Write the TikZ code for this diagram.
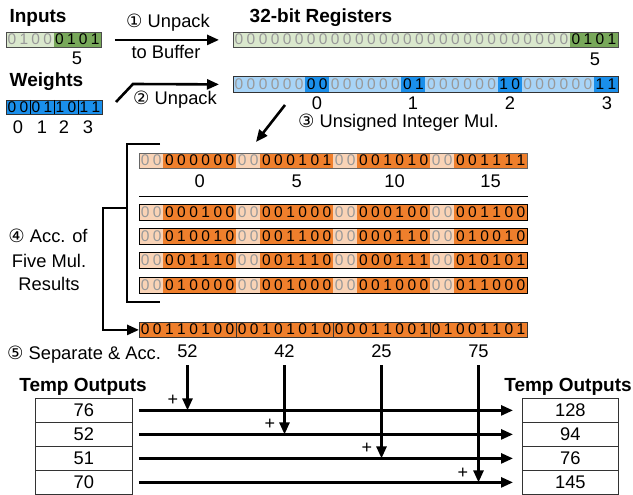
\documentclass[tikz,border=0pt]{standalone}
\usepackage{fontspec}
\setmainfont{Liberation Sans}
\newfontfamily\symfont{DejaVu Sans}
\usetikzlibrary{arrows.meta,calc}

\definecolor{grnD}{HTML}{78A85A}
\definecolor{grnL}{HTML}{DAE8CD}
\definecolor{bluD}{HTML}{1A8FEB}
\definecolor{bluL}{HTML}{A8D4F7}
\definecolor{orgD}{HTML}{EF7F2C}
\definecolor{orgL}{HTML}{F9D3B6}
\colorlet{lgt}{black!40}

\newcommand\bitfont{\fontsize{15.5}{15.5}\selectfont}
\newcommand\lblfont{\fontsize{18.3}{22}\selectfont}
\newcommand\ttlfont{\bfseries\fontsize{19}{22}\selectfont}
\newcommand\cnum[1]{{\symfont #1}}

\def\ow{12.125}
\def\rw{12.03}

% one run of bits: #1 name prefix, #2 left x, #3 top y, #4 bit width,
% #5 height, #6 fill, #7 digit colour, #8 bits
\newcommand\seg[8]{%
  \foreach \b [count=\i from 0] in {#8}{%
    \fill[#6] ({#2+\i*#4},#3) rectangle ({#2+(\i+1)*#4+0.3},{#3+#5});
    \node[bit,text=#7,name=#1\i] at ({#2+(\i+0.5)*#4},{#3+#5/2}) {\b};}}

% one packed 32-bit product row: #1 name, #2 top y, #3 height,
% #4 frame colour, #5-#8 the four six-bit values
\newcommand\orow[8]{%
  \seg{#1a}{139}{#2}{\ow}{#3}{orgL}{lgt}{0,0}
  \seg{#1b}{139+2*\ow}{#2}{\ow}{#3}{orgD}{black}{#5}
  \seg{#1c}{139+8*\ow}{#2}{\ow}{#3}{orgL}{lgt}{0,0}
  \seg{#1d}{139+10*\ow}{#2}{\ow}{#3}{orgD}{black}{#6}
  \seg{#1e}{139+16*\ow}{#2}{\ow}{#3}{orgL}{lgt}{0,0}
  \seg{#1f}{139+18*\ow}{#2}{\ow}{#3}{orgD}{black}{#7}
  \seg{#1g}{139+24*\ow}{#2}{\ow}{#3}{orgL}{lgt}{0,0}
  \seg{#1h}{139+26*\ow}{#2}{\ow}{#3}{orgD}{black}{#8}
  \node[frame=#4,minimum width=388pt,minimum height=#3pt] (#1) at (139,#2) {};}

\tikzset{
  bit/.style={inner sep=0pt,font=\bitfont},
  lbl/.style={inner sep=0pt,font=\lblfont},
  ttl/.style={inner sep=0pt,font=\ttlfont},
  plus/.style={inner sep=0pt,font=\fontsize{18}{18}\selectfont},
  frame/.style={draw=#1,line width=0.8pt,inner sep=0pt,anchor=north west},
  arr/.style={line width=2.6pt,-{Triangle[length=12pt,width=10pt]}},
  thk/.style={line width=2.6pt},
  cell/.style={draw=black!80,line width=0.8pt,inner sep=0pt,anchor=north west,
    minimum height=24pt,font=\lblfont},
}

\begin{document}
\begin{tikzpicture}[x=1pt,y=-1pt]
\useasboundingbox (0,0) rectangle (633,495);

% ---- packed inputs ----
\node[ttl,anchor=base] (tin) at (38,23) {Inputs};
\seg{ia}{6}{32}{11.875}{15}{grnL}{lgt}{0,1,0,0}
\seg{ib}{53.5}{32}{11.875}{15}{grnD}{black}{0,1,0,1}
\node[frame=black!70,minimum width=95pt,minimum height=15pt] (inbox) at (6,32) {};
\node[lbl,anchor=base] (in5) at (77,65) {5};

% ---- packed weights ----
\node[ttl,anchor=base] (twt) at (46.5,87) {Weights};
\seg{wa}{6}{100}{12}{14}{bluD}{black}{0,0,0,1,1,0,1,1}
\node[frame=black!80,minimum width=96pt,minimum height=14pt] (wbox) at (6,100) {};
\foreach \k in {1,2,3} \draw[line width=0.6pt] ({6+24*\k},100) -- ({6+24*\k},114);
\node[lbl,anchor=base] (w0) at (18,134) {0};
\node[lbl,anchor=base] (w1) at (42,134) {1};
\node[lbl,anchor=base] (w2) at (64,134) {2};
\node[lbl,anchor=base] (w3) at (88,134) {3};

% ---- 32-bit registers ----
\node[ttl,anchor=base] (treg) at (321,23) {32-bit Registers};
\seg{ga}{233}{32}{\rw}{15}{grnL}{lgt}{0,0,0,0,0,0,0,0,0,0,0,0,0,0,0,0,0,0,0,0,0,0,0,0,0,0,0,0}
\seg{gb}{233+28*\rw}{32}{\rw}{15}{grnD}{black}{0,1,0,1}
\node[frame=black!70,minimum width=385pt,minimum height=15pt] (reg1) at (233,32) {};
\node[lbl,anchor=base] (g5) at (595,66) {5};

\seg{ba}{233}{76}{\rw}{16}{bluL}{lgt}{0,0,0,0,0,0}
\seg{bb}{233+6*\rw}{76}{\rw}{16}{bluD}{black}{0,0}
\seg{bc}{233+8*\rw}{76}{\rw}{16}{bluL}{lgt}{0,0,0,0,0,0}
\seg{bd}{233+14*\rw}{76}{\rw}{16}{bluD}{black}{0,1}
\seg{be}{233+16*\rw}{76}{\rw}{16}{bluL}{lgt}{0,0,0,0,0,0}
\seg{bf}{233+22*\rw}{76}{\rw}{16}{bluD}{black}{1,0}
\seg{bg}{233+24*\rw}{76}{\rw}{16}{bluL}{lgt}{0,0,0,0,0,0}
\seg{bh}{233+30*\rw}{76}{\rw}{16}{bluD}{black}{1,1}
\node[frame=black!80,minimum width=385pt,minimum height=16pt] (reg2) at (233,76) {};
\node[lbl,anchor=base] (q0) at (317,110) {0};
\node[lbl,anchor=base] (q1) at (413,110) {1};
\node[lbl,anchor=base] (q2) at (510,110) {2};
\node[lbl,anchor=base] (q3) at (607,110) {3};

% ---- steps 1 and 2 ----
\node[lbl,anchor=base] (s1a) at (168,28) {\cnum{①} Unpack};
\node[lbl,anchor=base] (s1b) at (166,59) {to Buffer};
\draw[arr] ([xshift=13pt]inbox.east) -- ([xshift=-14pt]reg1.west);
\node[lbl,anchor=base] (s2) at (175,105) {\cnum{②} Unpack};
\coordinate (s2start) at (116,102);
\coordinate (s2bend) at (133,84);
\draw[arr] (s2start) -- (s2bend) -- ([xshift=-14pt]reg2.west);

% ---- step 3: products ----
\coordinate (s3start) at (285,105);
\coordinate (s3end) at (256,142);
\draw[arr] (s3start) -- (s3end);
\node[lbl,anchor=base west] (s3) at (298,128) {\cnum{③} Unsigned Integer Mul.};

\orow{ra}{153}{15}{black!60}{0,0,0,0,0,0}{0,0,0,1,0,1}{0,0,1,0,1,0}{0,0,1,1,1,1}
\node[lbl,anchor=base] (p0) at (199.6,187) {0};
\node[lbl,anchor=base] (p1) at (296.6,187) {5};
\node[lbl,anchor=base] (p2) at (394.6,187) {10};
\node[lbl,anchor=base] (p3) at (490.6,187) {15};
\draw[line width=0.9pt] (ra.south west |- 0,196) -- (ra.south east |- 0,196);

\orow{rb}{204}{16}{black}{0,0,0,1,0,0}{0,0,1,0,0,0}{0,0,0,1,0,0}{0,0,1,1,0,0}
\orow{rc}{228}{16}{black}{0,1,0,0,1,0}{0,0,1,1,0,0}{0,0,0,1,1,0}{0,1,0,0,1,0}
\orow{rd}{252}{16}{black}{0,0,1,1,1,0}{0,0,1,1,1,0}{0,0,0,1,1,1}{0,1,0,1,0,1}
\orow{re}{277}{16}{black}{0,1,0,0,0,0}{0,0,1,0,0,0}{0,0,1,0,0,0}{0,1,1,0,0,0}

% ---- step 4: accumulate ----
\draw[thk] (160,144) -- (127,144) -- (127,302) -- (160,302);
\coordinate (brmid) at (127,208);
\node[lbl,anchor=base] (s4a) at (48,243) {\cnum{④} Acc. of};
\node[lbl,anchor=base] (s4b) at (49,267) {Five Mul.};
\node[lbl,anchor=base] (s4c) at (49,290) {Results};

\seg{fa}{139}{322}{\ow}{15}{orgD}{black}{0,0,1,1,0,1,0,0}
\seg{fb}{139+8*\ow}{322}{\ow}{15}{orgD}{black}{0,0,1,0,1,0,1,0}
\seg{fc}{139+16*\ow}{322}{\ow}{15}{orgD}{black}{0,0,0,1,1,0,0,1}
\seg{fd}{139+24*\ow}{322}{\ow}{15}{orgD}{black}{0,1,0,0,1,1,0,1}
\node[frame=black!80,minimum width=388pt,minimum height=15pt] (fin) at (139,322) {};
\foreach \k in {1,2,3} \draw[line width=0.6pt,black!80] ({139+97*\k},322) -- ({139+97*\k},337);
\draw[arr] (brmid) -- ++(-24,0) |- (fin.west);

% ---- step 5: separate and accumulate ----
\node[lbl,anchor=base west] (s5) at (7,359) {\cnum{⑤} Separate \& Acc.};
\node[lbl,anchor=base] (v1) at (187.5,357) {52};
\node[lbl,anchor=base] (v2) at (284.5,357) {42};
\node[lbl,anchor=base] (v3) at (381.5,357) {25};
\node[lbl,anchor=base] (v4) at (478.5,357) {75};

\node[ttl,anchor=base] (tl) at (83,391) {Temp Outputs};
\node[ttl,anchor=base] (tr) at (568,391) {Temp Outputs};

\node[cell,minimum width=97pt] (l1) at (35,398) {76};
\node[cell,minimum width=97pt] (l2) at (35,422) {52};
\node[cell,minimum width=97pt] (l3) at (35,446) {51};
\node[cell,minimum width=97pt] (l4) at (35,470) {70};
\node[cell,minimum width=96pt] (o1) at (522,398) {128};
\node[cell,minimum width=96pt] (o2) at (522,422) {94};
\node[cell,minimum width=96pt] (o3) at (522,446) {76};
\node[cell,minimum width=96pt] (o4) at (522,470) {145};

\foreach \r in {1,2,3,4}
  \draw[arr] ([xshift=6pt]l\r.east) -- ([xshift=-9pt]o\r.west);
\foreach \r in {1,2,3,4}
  \draw[arr] ([yshift=-8pt]v\r.south) -- (v\r.south |- l\r.east);

\node[plus] (pl1) at (173,400) {+};
\node[plus] (pl2) at (270,424) {+};
\node[plus] (pl3) at (367,448) {+};
\node[plus] (pl4) at (463,473) {+};
\end{tikzpicture}
\end{document}
